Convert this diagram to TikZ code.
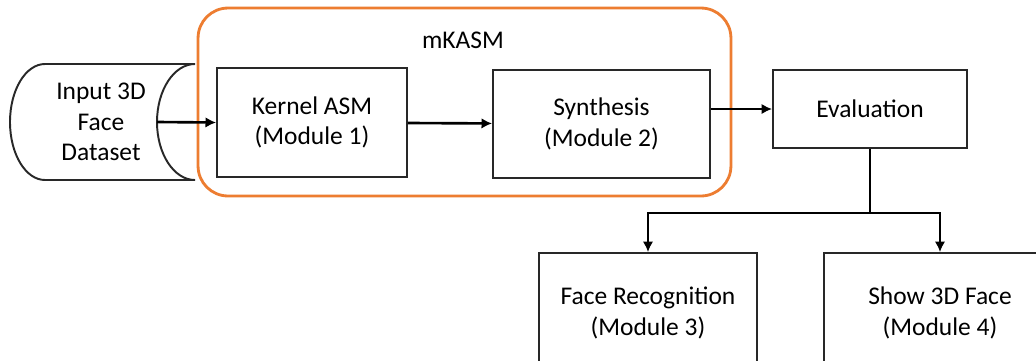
\documentclass[tikz,border=0pt]{standalone}
\usepackage{fontspec}
\setmainfont{Carlito}
\usepackage{tikz}
\usetikzlibrary{arrows.meta,positioning}
\definecolor{boxline}{RGB}{40,40,40}
\definecolor{officeorange}{RGB}{237,125,49}
\tikzset{module node/.style={rectangle, draw=boxline, line width=1.1pt, align=center,
    font=\fontsize{14.5}{17.5}\selectfont}}
\tikzset{group node/.style={rectangle, draw=officeorange, line width=1.6pt, rounded corners=0.6cm}}
\tikzset{flow edge/.style={draw=black, line width=1.5pt, -{Latex[length=6pt,width=6pt]}}}
\tikzset{plain edge/.style={draw=black, line width=1.5pt}}

\begin{document}
\begin{tikzpicture}
      [x=0.02cm, y=-0.02cm]
      \clip (0,0) rectangle (1036,360);
      \fill [white] (0,0) rectangle (1036,360);
      % stored data shape
      \node [align=center, font=\fontsize{14.5}{17.5}\selectfont, minimum width=3cm, minimum height=2.32cm]
                              (data)   at ( 101, 122) {Input 3D\\Face\\Dataset};
      \draw [boxline, line width=1.1pt] (45,64) -- (195,64) arc [start angle=90, end angle=270, x radius=38, y radius=-58]
            -- (45,180) arc [start angle=270, end angle=90, x radius=35, y radius=-58];
      \coordinate (dataout) at (157,122);
      % group
      \node [group node, minimum width=10.66cm, minimum height=3.76cm] (mkasm) at (464.5,102) {};
      \node [font=\fontsize{14.5}{17.5}\selectfont] (mkasmlabel) at (463,40) {mKASM};
      % modules
      \node [module node, minimum width=3.8cm,  minimum height=2.18cm] (kernel) at (312,122.5) {Kernel ASM\\(Module 1)};
      \node [module node, minimum width=4.34cm, minimum height=2.16cm] (synth)  at (601.5,124) {Synthesis\\(Module 2)};
      \node [module node, minimum width=3.88cm, minimum height=1.56cm] (eval)   at (870,109)  {Evaluation};
      \node [module node, minimum width=4.36cm, minimum height=2.4cm] (facerec) at (648,313) {Face Recognition\\(Module 3)};
      \node [module node, minimum width=4.64cm, minimum height=2.4cm] (show3d)  at (940,313) {Show 3D Face\\(Module 4)};

      \draw [flow edge]  (dataout) to (kernel.west);
      \draw [flow edge]  (kernel) to (synth);
      \draw [flow edge]  (synth.east |- eval.west) to (eval.west);
      \draw [plain edge] (eval.south) -- (870,213) coordinate (split);
      \draw [flow edge]  (split) -| (facerec.north);
      \draw [flow edge]  (split) -| (show3d.north);
    \end{tikzpicture}
\end{document}
